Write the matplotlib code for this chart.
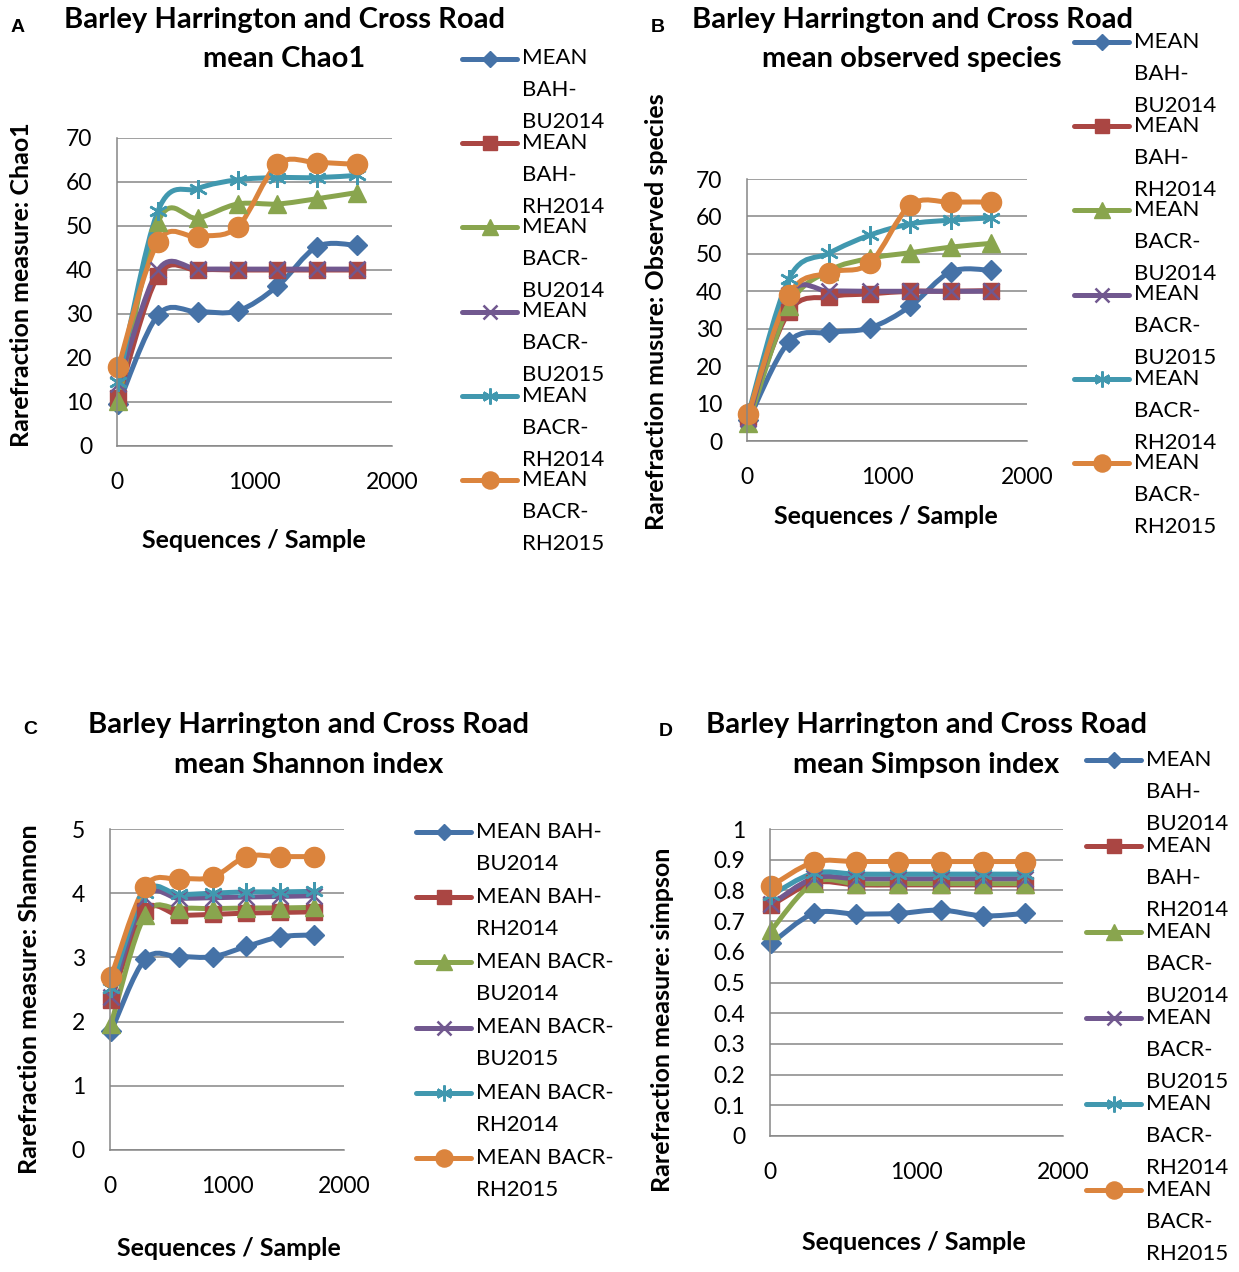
import numpy as np
import matplotlib
matplotlib.use("Agg")
import matplotlib.pyplot as plt
from matplotlib.lines import Line2D
from matplotlib.path import Path
from matplotlib.patches import PathPatch
from matplotlib.legend_handler import HandlerLine2D
from matplotlib.font_manager import FontProperties
from matplotlib.ticker import MultipleLocator, FuncFormatter

plt.rcParams['font.family'] = ['Lato', 'DejaVu Sans']

W, H = 1239, 1272

# sequences per sample (rarefaction depths)
seqs = [10, 299, 588, 877, 1166, 1455, 1744]
groups = ["BAH-BU2014", "BAH-RH2014", "BACR-BU2014",
          "BACR-BU2015", "BACR-RH2014", "BACR-RH2015"]
colors = ["#4572A7", "#AA4643", "#89A54E", "#71588F", "#4198AF", "#DB843D"]

# A: mean Chao1
chao1_bah_bu14 = [9.5, 29.8, 30.5, 30.7, 36.3, 45.3, 45.6]
chao1_bah_rh14 = [11.0, 38.7, 40.0, 40.0, 40.0, 40.0, 40.0]
chao1_bacr_bu14 = [10.3, 51.0, 51.8, 55.0, 55.0, 56.2, 57.6]
chao1_bacr_bu15 = [14.0, 40.0, 40.2, 40.2, 40.2, 40.2, 40.2]
chao1_bacr_rh14 = [14.5, 53.5, 58.5, 60.5, 61.0, 61.0, 61.5]
chao1_bacr_rh15 = [18.0, 46.4, 47.6, 49.8, 64.0, 64.4, 64.0]

# B: mean observed species
obs_bah_bu14 = [5.5, 26.5, 29.0, 30.2, 36.0, 45.2, 45.6]
obs_bah_rh14 = [6.5, 34.5, 38.5, 39.3, 40.0, 40.0, 40.2]
obs_bacr_bu14 = [4.8, 36.0, 45.5, 48.8, 50.3, 51.8, 52.8]
obs_bacr_bu15 = [6.0, 39.0, 40.0, 40.0, 40.0, 40.0, 40.0]
obs_bacr_rh14 = [7.4, 43.3, 50.2, 55.0, 58.0, 59.0, 59.6]
obs_bacr_rh15 = [7.2, 39.0, 45.0, 47.5, 63.0, 63.8, 63.8]

# C: mean Shannon index
shan_bah_bu14 = [1.85, 2.97, 3.01, 3.01, 3.17, 3.32, 3.35]
shan_bah_rh14 = [2.34, 3.72, 3.66, 3.67, 3.69, 3.70, 3.71]
shan_bacr_bu14 = [1.97, 3.66, 3.76, 3.76, 3.77, 3.77, 3.78]
shan_bacr_bu15 = [2.39, 3.93, 3.92, 3.93, 3.94, 3.95, 3.96]
shan_bacr_rh14 = [2.52, 4.01, 3.98, 4.00, 4.02, 4.02, 4.03]
shan_bacr_rh15 = [2.70, 4.10, 4.22, 4.25, 4.57, 4.57, 4.57]

# D: mean Simpson index
simp_bah_bu14 = [0.628, 0.725, 0.723, 0.725, 0.736, 0.717, 0.725]
simp_bah_rh14 = [0.752, 0.825, 0.818, 0.818, 0.818, 0.818, 0.818]
simp_bacr_bu14 = [0.671, 0.825, 0.822, 0.822, 0.822, 0.822, 0.822]
simp_bacr_bu15 = [0.755, 0.840, 0.838, 0.838, 0.838, 0.838, 0.838]
simp_bacr_rh14 = [0.785, 0.856, 0.853, 0.853, 0.853, 0.853, 0.853]
simp_bacr_rh15 = [0.815, 0.892, 0.894, 0.894, 0.894, 0.894, 0.894]

MARKERS = [('D', 9.8, 1.0), ('s', 12.0, 1.0), ('^', 13.0, 1.0),
           ('x', 11.5, 1.8), ((6, 2, 0), 13.5, 1.8), ('o', 14.5, 1.0)]
LW = 3.6
GRID = "#868686"
TICK_FS = 16.5
LAB_FS = 18.0
TITLE_FS = 21.0
LEG_FS = 16.0
LINE_PX = 32.0

panels = [
    dict(letter="A", box=(117, 138, 392, 446), ymax=70, ystep=10,
         series=[chao1_bah_bu14, chao1_bah_rh14, chao1_bacr_bu14,
                 chao1_bacr_bu15, chao1_bacr_rh14, chao1_bacr_rh15],
         title=("Barley Harrington and Cross Road", "mean Chao1"),
         tx=284, tb=(28, 67), lpos=(18, 28),
         ylabel="Rarefraction measure: Chao1", ylpos=(22, 285),
         xlpos=(254, 540), leg=(462, 57, 84.3), wrap=True),
    dict(letter="B", box=(747, 179, 1027, 441), ymax=70, ystep=10,
         series=[obs_bah_bu14, obs_bah_rh14, obs_bacr_bu14,
                 obs_bacr_bu15, obs_bacr_rh14, obs_bacr_rh15],
         title=("Barley Harrington and Cross Road", "mean observed species"),
         tx=912, tb=(28, 67), lpos=(658, 28),
         ylabel="Rarefraction musure: Observed species", ylpos=(656, 312),
         xlpos=(886, 516), leg=(1074, 40, 84.3), wrap=True),
    dict(letter="C", box=(110, 829, 344, 1150), ymax=5, ystep=1,
         series=[shan_bah_bu14, shan_bah_rh14, shan_bacr_bu14,
                 shan_bacr_bu15, shan_bacr_rh14, shan_bacr_rh15],
         title=("Barley Harrington and Cross Road", "mean Shannon index"),
         tx=309, tb=(733, 773), lpos=(30, 730),
         ylabel="Rarefraction measure: Shannon", ylpos=(30, 999),
         xlpos=(229, 1249), leg=(416, 830, 65.3), wrap=False),
    dict(letter="D", box=(770, 829, 1063, 1136), ymax=1, ystep=0.1,
         series=[simp_bah_bu14, simp_bah_rh14, simp_bacr_bu14,
                 simp_bacr_bu15, simp_bacr_rh14, simp_bacr_rh15],
         title=("Barley Harrington and Cross Road", "mean Simpson index"),
         tx=926, tb=(733, 773), lpos=(666, 731),
         ylabel="Rarefraction measure: simpson", ylpos=(662, 1020),
         xlpos=(914, 1243), leg=(1086, 758, 86.0), wrap=True),
]


def fx(x):
    return x / W


def fy(y):
    return 1 - y / H


def smooth_path(xs, ys):
    # Excel-like smoothed line: cubic Bezier segments through the points
    pts = np.column_stack([xs, ys]).astype(float)
    n = len(pts)
    verts, codes = [pts[0]], [Path.MOVETO]
    for i in range(n - 1):
        p0, p1 = pts[max(i - 1, 0)], pts[i]
        p2, p3 = pts[i + 1], pts[min(i + 2, n - 1)]
        verts += [p1 + (p2 - p0) / 6, p2 - (p3 - p1) / 6, p2]
        codes += [Path.CURVE4] * 3
    return Path(verts, codes)


class UpperHandle(HandlerLine2D):
    """Legend handle drawn next to the first line of a wrapped label."""

    def __init__(self, lift, **kw):
        super().__init__(**kw)
        self.lift = lift

    def create_artists(self, legend, orig_handle, xdescent, ydescent,
                       width, height, fontsize, trans):
        return super().create_artists(legend, orig_handle, xdescent,
                                      ydescent - 2 * self.lift, width,
                                      height, fontsize, trans)


fig = plt.figure(figsize=(W / 100, H / 100), dpi=100)
renderer = fig.canvas.get_renderer()
leg_prop = FontProperties(family='Lato', size=LEG_FS)
_, lp_h, lp_d = renderer.get_text_width_height_descent('lp', leg_prop, ismath=False)
_, cap_h, _ = renderer.get_text_width_height_descent('E', leg_prop, ismath=False)
# matplotlib puts lines lp_d + (lp_h - lp_d) * linespacing apart
linesp = (LINE_PX - lp_d) / (lp_h - lp_d)
pt = 72 / 100  # pixels -> points

for p in panels:
    l, t, r, b = p["box"]
    ax = fig.add_axes([fx(l), fy(b), (r - l) / W, (b - t) / H])
    handles = []
    for vals, col, (mk, ms, mew) in zip(p["series"], colors, MARKERS):
        ax.add_patch(PathPatch(smooth_path(seqs, vals), fill=False, ec=col,
                               lw=LW, capstyle='round', joinstyle='round',
                               clip_on=False))
        ax.plot(seqs, vals, ls='none', marker=mk, ms=ms, mew=mew, mec=col,
                mfc=col, clip_on=False)
        handles.append(Line2D([], [], color=col, lw=LW, marker=mk, ms=ms,
                              mew=mew, mec=col, mfc=col,
                              solid_capstyle='round'))
    ax.set_xlim(0, 2000)
    ax.set_xticks([0, 1000, 2000])
    ax.set_ylim(0, p["ymax"])
    ax.yaxis.set_major_locator(MultipleLocator(p["ystep"]))
    ax.yaxis.set_major_formatter(FuncFormatter(lambda v, _: f"{round(v, 1):g}"))
    ax.tick_params(length=0, labelsize=TICK_FS)
    ax.tick_params(axis='x', pad=19)
    ax.tick_params(axis='y', pad=18)
    ax.yaxis.grid(True, color=GRID, lw=1.1)
    ax.set_axisbelow(True)
    for s in ("top", "right"):
        ax.spines[s].set_visible(False)
    for s in ("left", "bottom"):
        ax.spines[s].set_color(GRID)
        ax.spines[s].set_linewidth(1.1)

    # titles and labels
    fig.text(fx(p["tx"]), fy(p["tb"][0]), p["title"][0], ha='center',
             va='baseline', fontsize=TITLE_FS, fontweight='bold')
    fig.text(fx(p["tx"]), fy(p["tb"][1]), p["title"][1], ha='center',
             va='baseline', fontsize=TITLE_FS, fontweight='bold')
    fig.text(fx(p["lpos"][0]), fy(p["lpos"][1]), p["letter"], ha='center',
             va='center', fontsize=14, fontweight='bold',
             family=['Liberation Sans', 'DejaVu Sans'])
    fig.text(fx(p["ylpos"][0]), fy(p["ylpos"][1]), p["ylabel"], rotation=90,
             ha='center', va='center', fontsize=LAB_FS, fontweight='bold')
    fig.text(fx(p["xlpos"][0]), fy(p["xlpos"][1]), "Sequences / Sample",
             ha='center', va='center', fontsize=LAB_FS, fontweight='bold')

    # legend
    if p["wrap"]:
        labels = ["MEAN\n" + g.replace("-", "-\n") for g in groups]
    else:
        labels = ["MEAN " + g.replace("-", "-\n") for g in groups]
    nlines = labels[0].count("\n") + 1
    hx, first_c, spacing = p["leg"]
    entry_h = lp_h + (nlines - 1) * LINE_PX
    top = first_c + cap_h / 2 - (lp_h - lp_d)
    leg = fig.legend(handles, labels, loc='upper left',
                     bbox_to_anchor=(fx(hx), fy(top)),
                     bbox_transform=fig.transFigure, frameon=False,
                     borderpad=0, borderaxespad=0, numpoints=1,
                     markerscale=0.85, prop=leg_prop,
                     handlelength=55 * pt / LEG_FS,
                     handletextpad=5 * pt / LEG_FS,
                     labelspacing=(spacing - entry_h) * pt / LEG_FS,
                     handler_map={Line2D: UpperHandle((nlines - 1) / 2 * LINE_PX * pt)})
    for txt in leg.get_texts():
        txt.set_linespacing(linesp)

fig.savefig("out.png", dpi=100)
